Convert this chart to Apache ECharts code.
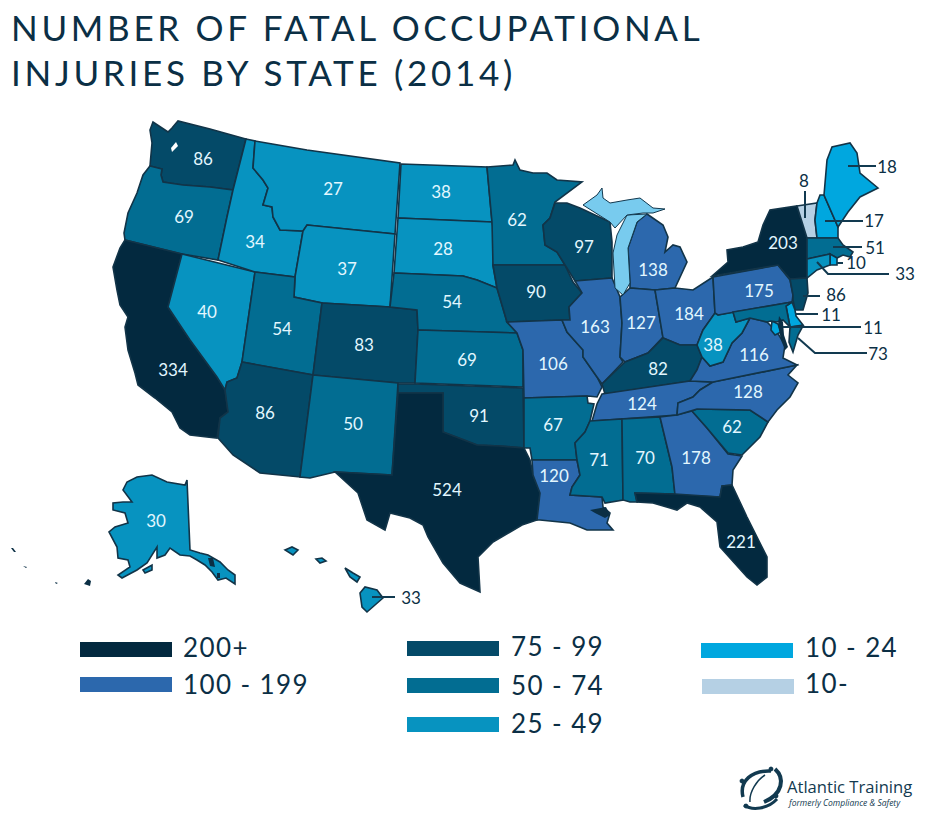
<!DOCTYPE html>
<html><head><meta charset="utf-8">
<style>
html,body{margin:0;padding:0;background:#fff}
#c{width:932px;height:822px}
#c text[style*="35px"]{letter-spacing:3.7px}
#c text[style*="26px"]{letter-spacing:1.4px}
</style>
<script src="https://cdn.jsdelivr.net/npm/echarts@6/dist/echarts.min.js"></script>
</head><body><div id="c"></div>
<script>
const titleText = 'NUMBER OF FATAL OCCUPATIONAL\nINJURIES BY STATE (2014)';
const stateCodes  = ['WA','OR','CA','NV','ID','MT','WY','UT','AZ','CO','NM','ND','SD','NE','KS','OK','TX','MN','IA','MO','AR','LA','WI','IL','MI','IN','OH','KY','TN','MS','AL','GA','FL','SC','NC','VA','WV','PA','NY','AK','HI','VT','NH','ME','MA','RI','CT','NJ','DE','DC','MD'];
const stateValues = [86,69,334,40,34,27,37,54,86,83,50,38,28,54,69,91,524,62,90,106,67,120,97,163,138,127,184,82,124,71,70,178,221,62,128,116,38,175,203,30,33,8,17,18,51,10,33,86,11,11,73];
const calloutStates = ['HI','VT','NH','ME','MA','RI','CT','NJ','DE','DC','MD'];
const binLabels = ['200+','100 - 199','75 - 99','50 - 74','25 - 49','10 - 24','10-'];
const binMin    = [200,100,75,50,25,10,0];
const binMax    = [Infinity,199,99,74,49,24,9];
const binColors = ['#03293f','#2c68ad','#044a68','#026d92','#0793c0','#00a7df','#b5d0e4'];

// Basemap geometry (image-space outlines, registered as the map's GeoJSON)
const outlines = {
WA:[[[150,130],[153,122],[162,128],[168,132],[172,128],[178,121],[210,129],[246,139],[233,190],[210,187],[183,185],[163,182],[161,175],[162,169],[150,166],[152,143]]],
OR:[[[150,166],[162,169],[161,175],[163,182],[183,185],[210,187],[233,190],[227,217],[218,260],[182,254],[125,240],[124,233],[128,213],[137,193],[143,175]]],
CA:[[[125,240],[182,254],[168,307],[190,340],[217,377],[225,390],[228,412],[220,418],[217,438],[190,435],[180,428],[172,412],[155,398],[138,385],[135,373],[128,350],[125,327],[128,317],[120,305],[117,290],[113,267],[120,248]]],
NV:[[[182,254],[255,272],[242,362],[237,378],[227,382],[225,390],[217,377],[190,340],[168,307]]],
ID:[[[246,139],[255,141],[253,168],[263,180],[268,188],[263,205],[272,207],[273,217],[280,230],[303,231],[295,277],[255,272],[218,260],[227,217],[233,190]]],
MT:[[[255,141],[307,150],[400,163],[395,234],[307,225],[303,231],[280,230],[273,217],[272,207],[263,205],[268,188],[263,180],[253,168]]],
WY:[[[307,225],[395,234],[390,307],[322,303],[294,297],[295,277],[303,231]]],
UT:[[[255,272],[295,277],[294,297],[322,303],[313,375],[242,362]]],
CO:[[[322,303],[390,307],[417,310],[418,330],[415,383],[398,383],[313,375]]],
AZ:[[[242,362],[313,375],[300,477],[260,473],[233,455],[218,438],[220,418],[228,412],[225,390],[227,382],[237,378]]],
NM:[[[313,375],[398,383],[392,475],[335,472],[310,478],[300,477]]],
ND:[[[401,164],[487,167],[492,222],[398,218]]],
SD:[[[398,218],[492,222],[495,237],[493,266],[497,288],[477,280],[463,276],[394,273]]],
NE:[[[394,273],[463,276],[477,280],[497,288],[507,322],[517,333],[418,330],[417,310],[390,307]]],
KS:[[[418,330],[517,333],[523,350],[523,387],[415,383]]],
OK:[[[398,384],[415,384],[523,388],[524,448],[500,446],[477,445],[443,432],[443,393],[398,393]]],
TX:[[[398,393],[443,393],[443,432],[477,445],[500,446],[524,448],[530,460],[533,475],[540,493],[537,520],[522,525],[493,542],[478,557],[480,592],[460,583],[443,563],[428,537],[423,525],[410,518],[390,513],[385,530],[367,520],[358,493],[335,472],[392,475]]],
MN:[[[487,167],[513,165],[515,160],[520,170],[533,173],[547,173],[557,180],[582,182],[555,202],[550,218],[543,225],[545,245],[557,252],[565,265],[493,265],[492,222]]],
IA:[[[493,265],[565,265],[573,282],[582,293],[569,307],[570,320],[562,320],[507,322],[497,288]]],
MO:[[[507,322],[562,320],[567,332],[583,350],[583,357],[597,377],[602,387],[597,397],[588,396],[524,398],[523,350],[517,333]]],
AR:[[[524,398],[587,396],[588,403],[594,404],[590,421],[585,432],[575,443],[577,460],[532,460],[530,448],[524,448]]],
LA:[[[532,460],[577,460],[580,475],[572,487],[570,495],[602,497],[603,507],[610,513],[607,523],[613,530],[587,530],[570,523],[540,520],[537,520],[540,493],[533,475]]],
WI:[[[555,203],[567,203],[580,208],[610,222],[612,242],[612,278],[575,281],[565,265],[557,252],[545,245],[543,225],[550,218]]],
IL:[[[575,281],[612,278],[620,297],[622,323],[620,357],[623,362],[602,384],[597,377],[583,357],[583,350],[567,332],[562,320],[570,320],[569,307],[582,293]]],
MI:[[[647,214],[663,225],[668,237],[665,252],[673,245],[680,247],[687,262],[675,288],[655,290],[630,288],[630,283],[628,248],[637,222]]],
IN:[[[620,297],[630,288],[655,290],[663,337],[648,353],[625,362],[620,357],[622,323]]],
OH:[[[655,290],[675,288],[693,290],[713,277],[715,313],[703,330],[697,345],[680,345],[663,338]]],
KY:[[[625,362],[648,353],[663,338],[680,345],[697,345],[702,357],[697,370],[690,381],[605,394],[602,384]]],
TN:[[[602,394],[690,381],[713,382],[700,390],[693,397],[678,403],[677,415],[592,421],[597,404]]],
NC:[[[713,382],[797,365],[788,375],[798,383],[790,397],[777,410],[768,422],[750,410],[697,409],[677,415],[678,403],[693,397],[700,390]]],
SC:[[[692,411],[697,409],[750,410],[768,422],[760,437],[742,455],[728,453],[707,428]]],
GA:[[[660,417],[677,415],[692,411],[707,428],[728,454],[742,456],[733,470],[732,485],[722,486],[720,497],[675,495],[672,467]]],
AL:[[[622,419],[660,417],[672,467],[675,494],[635,493],[637,502],[630,502],[623,500]]],
MS:[[[590,421],[622,419],[623,500],[605,503],[602,497],[570,495],[572,487],[580,475],[577,460],[575,443],[585,432]]],
FL:[[[635,493],[675,494],[720,497],[722,486],[732,485],[747,517],[767,557],[767,577],[757,585],[747,577],[720,547],[717,522],[700,507],[687,503],[677,510],[653,503],[637,502]]],
VA:[[[690,381],[697,370],[702,357],[710,366],[723,362],[732,343],[742,333],[750,318],[767,322],[777,332],[785,345],[783,358],[797,365],[713,382]]],
WV:[[[718,315],[733,312],[736,322],[750,318],[742,333],[732,343],[723,362],[710,366],[702,357],[697,345],[703,330],[715,313]]],
PA:[[[713,277],[778,265],[790,280],[793,295],[792,302],[718,315],[715,313]]],
NY:[[[712,276],[728,262],[727,250],[743,247],[758,242],[763,225],[770,210],[797,206],[807,238],[807,278],[790,279],[778,265]]],
NJ:[[[790,279],[807,278],[808,293],[803,310],[795,310],[793,300],[793,295]]],
VT:[[[797,206],[817,203],[815,220],[817,238],[807,238]]],
NH:[[[817,203],[820,195],[824,195],[838,227],[838,238],[817,238],[815,220]]],
ME:[[[824,195],[827,160],[832,147],[850,143],[857,153],[860,173],[878,188],[860,197],[848,212],[838,227]]],
MA:[[[807,238],[838,238],[843,245],[853,252],[850,257],[843,255],[837,258],[830,254],[807,259]]],
CT:[[[807,259],[830,254],[830,265],[817,270],[807,278]]],
RI:[[[830,254],[837,258],[837,265],[830,265]]],
DE:[[[792,302],[795,310],[796,316],[803,325],[790,327],[786,306]]],
DC:[[[772,321],[778,324],[781,332],[775,335],[771,330]]],
MD:[[[733,312],[792,302],[786,306],[790,327],[783,320],[777,322],[771,321],[767,322],[750,318],[736,322]],[[790,327],[803,326],[798,335],[793,352],[789,342]]],
AK:[[[187,480],[190,550],[200,553],[208,555],[220,562],[228,570],[235,575],[235,584],[226,578],[218,580],[212,572],[205,565],[197,560],[190,556],[180,555],[170,548],[165,555],[157,558],[157,547],[147,563],[137,570],[122,578],[118,575],[130,567],[128,560],[118,558],[117,547],[109,532],[115,527],[128,523],[125,513],[113,510],[113,503],[123,502],[132,502],[123,490],[127,482],[137,477],[152,475],[167,482],[185,485]],[[143,570],[152,565],[152,570],[145,573]]],
HI:[[[285,550],[292,547],[298,550],[293,555]],[[316,559],[322,558],[326,561],[320,563]],[[345,568],[353,573],[360,577],[357,582],[350,577]],[[360,593],[365,587],[377,590],[383,598],[375,605],[367,612],[362,607]]]
};
const labelAnchors = {WA:[203,158],OR:[184,216],CA:[173,369],NV:[207,311],ID:[255,241],MT:[333,188],WY:[347,268],UT:[282,328],AZ:[265,412],CO:[364,344],NM:[353,423],ND:[441,191],SD:[443,248],NE:[452,301],KS:[467,359],OK:[479,415],TX:[447,489],MN:[517,219],IA:[536,291],MO:[553,363],AR:[553,424],LA:[554,475],WI:[584,246],IL:[595,326],MI:[653,269],IN:[641,322],OH:[689,313],KY:[658,368],TN:[642,403],MS:[599,459],AL:[645,457],GA:[696,457],FL:[741,541],SC:[732,426],NC:[748,391],VA:[754,354],WV:[713,344],PA:[759,290],NY:[783,242],AK:[156,520]};
const extras = {
 Lake:{c:'#78cbee',p:[[[647,214],[637,222],[628,248],[630,283],[623,295],[615,288],[613,253],[617,235],[627,215]]]},
 UP:{c:'#78cbee',p:[[[583,205],[597,195],[602,188],[603,198],[610,203],[627,200],[640,198],[653,208],[665,209],[653,213],[643,213],[627,215],[615,228],[610,222]]]},
 Chesapeake:{c:'#0b2f45',p:[[[779,316],[783,322],[784,335],[788,347],[785,350],[781,340],[778,325]]]},
 Pontchartrain:{c:'#0b2f45',p:[[[590,510],[606,507],[610,515],[605,518],[595,513]]]},
 Puget:{c:'#ffffff',p:[[[171,148],[176,142],[178,146],[172,152]]]},
 Panhandle:{c:'#0b2f45',p:[[[208,558],[213,558],[215,567],[210,566]],[[217,573],[220,573],[220,578],[217,578]]]},
 Aleutians:{c:'#0b2f45',p:[[[11,548],[13,548],[16,552],[14,552]],[[23,566],[27,567],[26,568]],[[55,582],[58,583],[56,584]],[[84,584],[88,579],[91,581],[90,586]]]}
};
const calloutCodes  = ['ME','NH','VT','MA','RI','CT','NJ','DE','DC','MD','HI'];
const calloutTexts  = calloutCodes.map(c => String(stateValues[stateCodes.indexOf(c)]));
const calloutAnchors = [[887,166],[874,220],[804,180],[875,247],[856,262],[905,273],[836,294],[831,314],[873,327],[878,353],[411,597]];
const leaderPaths = [
 [[848,166],[876,166]],[[825,221],[863,221]],[[805,191],[805,218]],[[833,247],[862,247]],
 [[837,263],[843,263]],[[817,262],[828,274],[889,274]],[[803,296],[820,296]],[[795,314],[818,314]],
 [[783,327],[861,327]],[[798,338],[815,353],[867,353]],[[372,597],[395,597]]];
const legendX = [80,80,407,407,407,701,702];
const legendY = [642,677,641,678,717,643,679];
const legendW = 92, legendH = 15;
const legendTextX = [183,183,511,511,511,805,805];
const legendTextY = [647,684,646,685,723,647,683];

const pxToCoord = ring => ring.map(p => [p[0], -p[1]]);
const feature = (name, polys, cp) => ({type:'Feature',properties:cp?{name,cp:[cp[0],-cp[1]]}:{name},
  geometry:{type:'MultiPolygon',coordinates:polys.map(r=>[pxToCoord(r)])}});
echarts.registerMap('usa',{type:'FeatureCollection',features:stateCodes.map(c=>feature(c,outlines[c],labelAnchors[c]))});
echarts.registerMap('water',{type:'FeatureCollection',features:Object.keys(extras).map(k=>feature(k,extras[k].p))});

const bounds = [[0,0],[932,-822]];
const textColor = '#0b2f45', font = 'Lato';
const legendGraphics = [];
binLabels.forEach((t,i)=>{
  legendGraphics.push({type:'rect',shape:{x:legendX[i],y:legendY[i],width:legendW,height:legendH},style:{fill:binColors[i]}});
  legendGraphics.push({type:'text',x:legendTextX[i],y:legendTextY[i],style:{text:t,fill:textColor,font:'400 26px '+font,verticalAlign:'middle'}});
});
const logoColor = '#123a50';
const swooshes = [
 {x1:743,y1:797,cpx1:739,cpy1:781,cpx2:752,cpy2:770,x2:771,y2:771},
 {x1:775,y1:769,cpx1:785,cpy1:778,cpx2:783,cpy2:794,x2:764,y2:802},
 {x1:744,y1:805,cpx1:752,cpy1:811,cpx2:768,cpy2:809,x2:777,y2:799},
 {x1:750,y1:802,cpx1:749,cpy1:792,cpx2:757,cpy2:780,x2:765,y2:775}];
const swooshWidths = [3.5,4,3,1.5];
const dots = [[742,781],[771,769],[776,796],[746,806]];
const logoGraphics = swooshes.map((shape,i)=>({type:'bezierCurve',shape,style:{stroke:logoColor,lineWidth:swooshWidths[i],fill:null}}))
 .concat(dots.map(d=>({type:'circle',shape:{cx:d[0],cy:d[1],r:2.4},style:{fill:logoColor}})))
 .concat([
  {type:'text',x:787,y:786,style:{text:'Atlantic Training',fill:logoColor,font:'400 16.6px "Open Sans"',verticalAlign:'middle'}},
  {type:'text',x:789,y:802,style:{text:'formerly Compliance & Safety',fill:logoColor,font:'italic 8.5px "Open Sans"',verticalAlign:'middle'}}
 ]);

const chart = echarts.init(document.getElementById('c'),null,{renderer:'svg'});
chart.setOption({
  animation:false,
  backgroundColor:'#ffffff',
  title:{text:titleText,left:11,top:4,padding:0,textStyle:{color:textColor,fontFamily:font,fontWeight:400,fontSize:35,lineHeight:45}},
  tooltip:{show:false},
  visualMap:{type:'piecewise',show:false,seriesIndex:0,pieces:binColors.map((color,i)=>{
    const p={color}; if(isFinite(binMax[i])) p.max=binMax[i]; if(binMin[i]>0) p.min=binMin[i]; return p;})},
  geo:{map:'water',silent:true,aspectScale:1,boundingCoords:bounds,left:0,top:0,width:932,height:822,z:3,roam:false,
    itemStyle:{areaColor:'#78cbee',borderWidth:0},label:{show:false},
    regions:Object.keys(extras).map(k=>({name:k,itemStyle:{areaColor:extras[k].c,borderColor:k==='UP'||k==='Lake'?'#12384e':extras[k].c,borderWidth:k==='UP'||k==='Lake'?1:0}}))},
  series:[
   {type:'map',map:'usa',silent:true,aspectScale:1,boundingCoords:bounds,left:0,top:0,width:932,height:822,z:2,roam:false,selectedMode:false,
    itemStyle:{borderColor:'#123448',borderWidth:1.6},
    label:{show:true,color:'#e2f7ff',fontFamily:font,fontSize:17,formatter:'{c}'},
    emphasis:{disabled:true},
    data:stateCodes.map((name,i)=>({name,value:stateValues[i],label:{show:!calloutStates.includes(name)}}))},
   {type:'lines',coordinateSystem:'geo',polyline:true,silent:true,z:4,
    lineStyle:{color:'#123a50',width:2,opacity:1},
    data:leaderPaths.map(path=>({coords:pxToCoord(path)}))},
   {type:'scatter',coordinateSystem:'geo',silent:true,symbolSize:1,z:5,itemStyle:{color:'transparent',opacity:1},
    label:{show:true,position:'inside',color:textColor,fontFamily:font,fontSize:17,formatter:p=>calloutTexts[p.dataIndex]},
    data:pxToCoord(calloutAnchors)}
  ],
  graphic:{elements:legendGraphics.concat(logoGraphics)}
});
</script></body></html>
